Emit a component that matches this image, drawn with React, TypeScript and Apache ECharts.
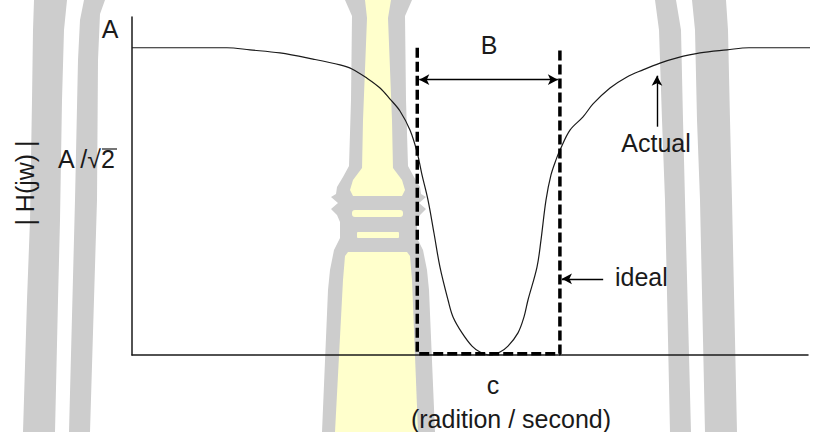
import React, { useEffect, useRef } from "react";
import * as echarts from "echarts";

// Frequency axis (arbitrary units, 0..100 spans the drawn axis) and |H(jw)| normalised to A = 1
const freq = [
  0, 14.05, 17.46, 21.89, 26.78, 30.77, 32.54, 34.76, 36.69, 38.17, 39.64, 41.12,
  42.16, 42.9, 43.79, 44.67, 45.56, 46.75, 47.49, 48.82, 50.3, 51.48, 52.96,
  54.44, 55.62, 57.1, 57.99, 58.58, 59.91, 60.5, 61.24, 61.98, 62.72, 63.31,
  64.79, 66.72, 68.2, 70.71, 73.22, 75.59, 78.11, 80.62, 84.02, 88.02, 91.27, 103.7,
];
const actualMag = [
  1.0, 1.0, 0.993, 0.983, 0.963, 0.944, 0.931, 0.901, 0.869, 0.833, 0.794, 0.732,
  0.661, 0.586, 0.504, 0.397, 0.286, 0.179, 0.124, 0.072, 0.029, 0.01, 0,
  0.01, 0.029, 0.072, 0.124, 0.179, 0.286, 0.374, 0.504, 0.586, 0.635, 0.667,
  0.732, 0.775, 0.817, 0.869, 0.905, 0.928, 0.95, 0.967, 0.983, 0.993, 1.0, 1.0,
];

// Ideal band-stop response (brick wall between the two cut-off frequencies)
const idealFreq = [42.2, 42.2, 63.3, 63.3];
const idealMag = [1.0, 0.004, 0.004, 1.0];

// Annotation anchors in data units
const bandwidthArrow = { from: 42.5, to: 63.0, level: 0.896 };
const actualArrow = { at: 77.66, from: 0.743, to: 0.909 };
const idealArrow = { from: 69.7, to: 63.6, level: 0.248 };

// Text
const yLevelLabels = ["A", "A /√2"];
const yTitle = "| H(jw) |";
const bandLabel = "B";
const centreLabel = "c";
const unitLabel = "(radition / second)";
const actualLabel = "Actual";
const idealLabel = "ideal";

// Background emblem outlines (pixel coordinates)
const GREY = "#cdcdcd";
const PALE = "#ffffcc";
const leftOuterArch = [
  [34, 0], [67, 0], [64, 30], [62, 100], [60, 220], [58, 300], [55, 432],
  [23, 432], [27, 300], [30, 220], [32, 100], [33, 30],
];
const leftInnerArch = [
  [84, 0], [105, 0], [100, 14], [98, 60], [97, 200], [90, 432],
  [69, 432], [75, 200], [78, 60], [80, 20],
];
const rightInnerArch = [
  [655, 0], [676, 0], [681, 30], [683, 120], [685, 200], [691, 432],
  [670, 432], [665, 200], [662, 120], [659, 30],
];
const rightOuterArch = [
  [692, 0], [726, 0], [728, 30], [730, 120], [732, 200], [737, 432],
  [705, 432], [700, 200], [697, 120], [695, 30],
];
const pillarLeftEdge = [
  [345, 0], [352, 16], [351, 100], [349, 166], [343, 177], [337, 187], [336, 194],
  [331, 197], [338, 203], [331, 209], [337, 215], [340, 222], [340, 238],
  [334, 250], [330, 270], [328, 290], [322, 432],
];
const mirrorX = 757;
const pillarOutline = [
  ...pillarLeftEdge,
  ...pillarLeftEdge.slice().reverse().map(([x, y]) => [mirrorX - x, y]),
];
const pillarShaft = [
  [365, 0], [391, 0], [388, 18], [392, 120], [393, 170], [362, 170], [363, 120], [367, 18],
];
const pillarShoulder = [
  [362, 168], [393, 168], [402, 180], [405, 190], [402, 196], [353, 196], [350, 190], [353, 180],
];
const pillarBase = [
  [348, 252], [407, 252], [410, 256], [412, 280], [418, 432], [335, 432], [343, 280], [345, 256],
];

const FONT = "'Liberation Sans', Arial, sans-serif";
const INK = "#1a1a1a";

function poly(points: number[][], fill: string) {
  return { type: "polygon", z: 0, silent: true, shape: { points }, style: { fill } };
}

function label(text: string, x: number, y: number, align = "center", extra: any = {}) {
  return {
    type: "text",
    z: 20,
    x,
    y,
    silent: true,
    style: {
      text,
      fill: INK,
      font: `25px ${FONT}`,
      align,
      verticalAlign: "middle",
    },
    ...extra,
  };
}

export default function App() {
  const ref = useRef<HTMLDivElement>(null);

  useEffect(() => {
    if (!ref.current) return;
    const chart = echarts.init(ref.current, null, { renderer: "svg" });

    const actualData = freq.map((f, i) => [f, actualMag[i]]);
    const idealData = idealFreq.map((f, i) => [f, idealMag[i]]);

    chart.setOption({
      animation: false,
      backgroundColor: "#ffffff",
      grid: { left: 132, right: 25, top: 17, bottom: 77 },
      xAxis: {
        type: "value",
        min: 0,
        max: 100,
        axisLine: { show: true, lineStyle: { color: INK, width: 1.5 } },
        axisTick: { show: false },
        axisLabel: { show: false },
        splitLine: { show: false },
      },
      yAxis: {
        type: "value",
        min: 0,
        max: 1.1,
        axisLine: { show: true, lineStyle: { color: INK, width: 1.5 } },
        axisTick: { show: false },
        axisLabel: { show: false },
        splitLine: { show: false },
      },
      series: [
        {
          name: "Actual",
          type: "line",
          data: actualData,
          clip: false,
          smooth: 0.35,
          symbol: "none",
          z: 3,
          lineStyle: { color: INK, width: 1.2 },
        },
        {
          name: "Ideal",
          type: "line",
          data: idealData,
          symbol: "none",
          z: 4,
          lineStyle: { color: "#000", width: 3.5, type: [10, 4] },
        },
        {
          name: "annotations",
          type: "line",
          data: [],
          markLine: {
            silent: true,
            animation: false,
            label: { show: false },
            lineStyle: { color: "#000", width: 1.4, type: "solid" },
            symbolSize: [8, 10],
            data: [
              [
                { coord: [bandwidthArrow.from, bandwidthArrow.level], symbol: "arrow" },
                { coord: [bandwidthArrow.to, bandwidthArrow.level], symbol: "arrow" },
              ],
              [
                { coord: [actualArrow.at, actualArrow.from], symbol: "none" },
                { coord: [actualArrow.at, actualArrow.to], symbol: "arrow" },
              ],
              [
                { coord: [idealArrow.from, idealArrow.level], symbol: "none" },
                { coord: [idealArrow.to, idealArrow.level], symbol: "arrow" },
              ],
            ],
          },
        },
      ],
      graphic: [
        poly(leftOuterArch, GREY),
        poly(leftInnerArch, GREY),
        poly(rightInnerArch, GREY),
        poly(rightOuterArch, GREY),
        poly(pillarOutline, GREY),
        poly(pillarShaft, PALE),
        poly(pillarShoulder, PALE),
        { type: "rect", z: 0, silent: true, shape: { x: 352, y: 210, width: 51, height: 7, r: 3 }, style: { fill: PALE } },
        { type: "rect", z: 0, silent: true, shape: { x: 357, y: 232, width: 42, height: 6, r: 1 }, style: { fill: PALE } },
        poly(pillarBase, PALE),
        label(yLevelLabels[0], 110, 29),
        label(yLevelLabels[1], 58, 159, "left"),
        {
          type: "line",
          z: 20,
          silent: true,
          shape: { x1: 102, y1: 149, x2: 117, y2: 149 },
          style: { stroke: INK, lineWidth: 1.2 },
        },
        label(yTitle, 25, 183, "center", { rotation: Math.PI / 2 }),
        label(bandLabel, 489, 45),
        label(actualLabel, 656, 143),
        label(idealLabel, 615, 277, "left"),
        label(centreLabel, 493, 385),
        label(unitLabel, 511, 419),
      ],
    });

    return () => chart.dispose();
  }, []);

  return (
    <div
      ref={ref}
      style={{ position: "fixed", left: 0, top: 0, width: 833, height: 432, background: "#fff" }}
    />
  );
}
